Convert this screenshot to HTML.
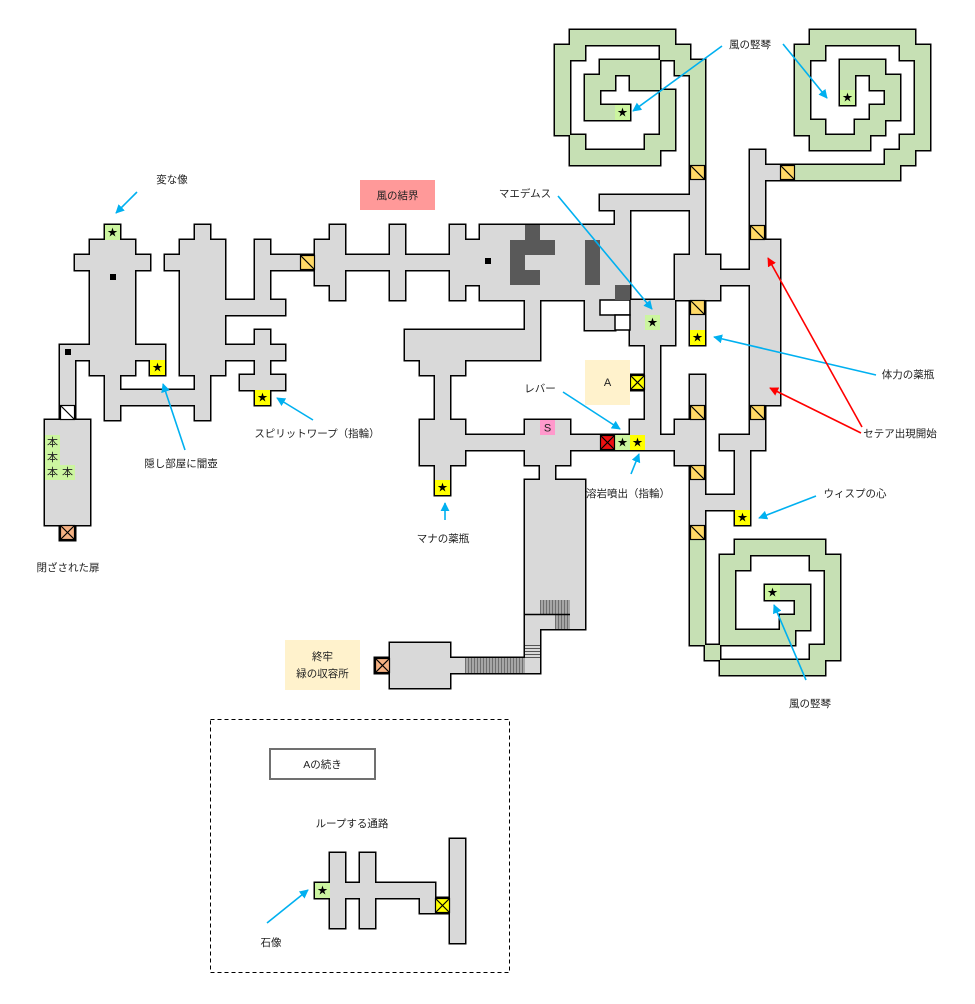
<!DOCTYPE html>
<html><head><meta charset="utf-8"><style>
html,body{margin:0;padding:0;background:#fff;}
svg{display:block;}
text{font-family:"Liberation Sans","Noto Sans CJK JP",sans-serif;fill:#222;}
</style></head><body>
<svg width="975" height="1004" viewBox="0 0 975 1004" xmlns="http://www.w3.org/2000/svg">
<defs>
<g id="G">
<rect x="90" y="240" width="45" height="135"/>
<rect x="75" y="255" width="75" height="15"/>
<rect x="105" y="225" width="15" height="15"/>
<rect x="60" y="345" width="105" height="15"/>
<rect x="150" y="360" width="15" height="15"/>
<rect x="60" y="345" width="15" height="75"/>
<rect x="45" y="420" width="45" height="105"/>
<rect x="60" y="525" width="15" height="15"/>
<rect x="105" y="375" width="15" height="45"/>
<rect x="105" y="390" width="105" height="15"/>
<rect x="195" y="225" width="15" height="15"/>
<rect x="180" y="240" width="45" height="135"/>
<rect x="165" y="255" width="15" height="15"/>
<rect x="195" y="375" width="15" height="45"/>
<rect x="225" y="300" width="60" height="15"/>
<rect x="255" y="240" width="15" height="75"/>
<rect x="270" y="255" width="45" height="15"/>
<rect x="255" y="330" width="15" height="75"/>
<rect x="225" y="345" width="60" height="15"/>
<rect x="240" y="375" width="45" height="15"/>
<rect x="315" y="240" width="15" height="45"/>
<rect x="330" y="225" width="15" height="75"/>
<rect x="345" y="255" width="45" height="15"/>
<rect x="390" y="225" width="15" height="75"/>
<rect x="405" y="255" width="45" height="15"/>
<rect x="450" y="225" width="15" height="75"/>
<rect x="465" y="240" width="15" height="45"/>
<rect x="480" y="225" width="135" height="75"/>
<rect x="615" y="210" width="15" height="90"/>
<rect x="600" y="195" width="105" height="15"/>
<rect x="585" y="300" width="15" height="30"/>
<rect x="600" y="315" width="15" height="15"/>
<rect x="525" y="300" width="15" height="30"/>
<rect x="405" y="330" width="135" height="30"/>
<rect x="420" y="360" width="45" height="15"/>
<rect x="435" y="375" width="15" height="45"/>
<rect x="420" y="420" width="45" height="45"/>
<rect x="435" y="465" width="15" height="30"/>
<rect x="465" y="435" width="210" height="15"/>
<rect x="525" y="420" width="45" height="45"/>
<rect x="540" y="465" width="15" height="15"/>
<rect x="525" y="480" width="60" height="149"/>
<rect x="525" y="625" width="15" height="48"/>
<rect x="450" y="658" width="90" height="15"/>
<rect x="390" y="643" width="60" height="45"/>
<rect x="375" y="658" width="15" height="15"/>
<rect x="630" y="300" width="45" height="45"/>
<rect x="645" y="345" width="15" height="90"/>
<rect x="630" y="420" width="15" height="15"/>
<rect x="630" y="375" width="15" height="15"/>
<rect x="675" y="420" width="30" height="45"/>
<rect x="690" y="165" width="15" height="90"/>
<rect x="675" y="255" width="45" height="45"/>
<rect x="720" y="270" width="30" height="15"/>
<rect x="750" y="240" width="30" height="165"/>
<rect x="750" y="150" width="15" height="90"/>
<rect x="765" y="165" width="30" height="15"/>
<rect x="690" y="300" width="15" height="45"/>
<rect x="690" y="375" width="15" height="45"/>
<rect x="690" y="465" width="15" height="75"/>
<rect x="690" y="495" width="60" height="15"/>
<rect x="735" y="450" width="15" height="75"/>
<rect x="750" y="405" width="15" height="30"/>
<rect x="720" y="435" width="45" height="15"/>
<rect x="330" y="853" width="15" height="75"/>
<rect x="360" y="853" width="15" height="75"/>
<rect x="315" y="883" width="120" height="15"/>
<rect x="420" y="898" width="30" height="15"/>
<rect x="450" y="839" width="15" height="104"/>
</g>
<g id="GR">
<rect x="570" y="30" width="105" height="15"/>
<rect x="555" y="45" width="30" height="15"/>
<rect x="660" y="45" width="30" height="15"/>
<rect x="555" y="45" width="15" height="90"/>
<rect x="600" y="60" width="60" height="15"/>
<rect x="675" y="60" width="30" height="15"/>
<rect x="690" y="60" width="15" height="105"/>
<rect x="585" y="75" width="30" height="15"/>
<rect x="630" y="75" width="30" height="15"/>
<rect x="585" y="75" width="15" height="45"/>
<rect x="585" y="105" width="45" height="15"/>
<rect x="660" y="90" width="15" height="60"/>
<rect x="570" y="135" width="15" height="15"/>
<rect x="645" y="135" width="30" height="15"/>
<rect x="570" y="150" width="90" height="15"/>
<rect x="810" y="30" width="105" height="15"/>
<rect x="795" y="45" width="30" height="15"/>
<rect x="900" y="45" width="30" height="15"/>
<rect x="795" y="45" width="15" height="90"/>
<rect x="915" y="45" width="15" height="105"/>
<rect x="840" y="60" width="45" height="15"/>
<rect x="840" y="60" width="15" height="45"/>
<rect x="870" y="75" width="30" height="15"/>
<rect x="885" y="75" width="15" height="45"/>
<rect x="870" y="105" width="30" height="15"/>
<rect x="795" y="120" width="30" height="15"/>
<rect x="855" y="120" width="30" height="15"/>
<rect x="810" y="135" width="60" height="15"/>
<rect x="900" y="135" width="30" height="15"/>
<rect x="885" y="150" width="30" height="15"/>
<rect x="795" y="165" width="105" height="15"/>
<rect x="690" y="540" width="15" height="105"/>
<rect x="705" y="645" width="15" height="15"/>
<rect x="720" y="660" width="105" height="15"/>
<rect x="810" y="645" width="30" height="15"/>
<rect x="825" y="555" width="15" height="105"/>
<rect x="810" y="555" width="30" height="15"/>
<rect x="735" y="540" width="90" height="15"/>
<rect x="720" y="555" width="30" height="15"/>
<rect x="720" y="555" width="15" height="90"/>
<rect x="735" y="630" width="60" height="15"/>
<rect x="780" y="615" width="30" height="15"/>
<rect x="795" y="585" width="15" height="45"/>
<rect x="765" y="585" width="45" height="15"/>
</g>
<g id="dg"><rect x="0.5" y="0.5" width="14" height="14" fill="#ffd966" stroke="#000" stroke-width="1.2"/><path d="M0.5 0.5L14.5 14.5" stroke="#000" stroke-width="1.2"/></g>
<g id="xo"><rect x="0.5" y="0.5" width="14" height="14" fill="#f4b183" stroke="#000" stroke-width="1.2"/><path d="M0.5 0.5L14.5 14.5M14.5 0.5L0.5 14.5" stroke="#000" stroke-width="1.2"/></g>
<g id="xr"><rect x="0.5" y="0.5" width="14" height="14" fill="#ee1111" stroke="#000" stroke-width="1.2"/><path d="M0.5 0.5L14.5 14.5M14.5 0.5L0.5 14.5" stroke="#000" stroke-width="1.2"/></g>
<g id="xy"><rect x="0.5" y="0.5" width="14" height="14" fill="#ffff00" stroke="#000" stroke-width="1.2"/><path d="M0.5 0.5L14.5 14.5M14.5 0.5L0.5 14.5" stroke="#000" stroke-width="1.2"/></g>
<pattern id="vs" width="3" height="3" patternUnits="userSpaceOnUse"><rect width="3" height="3" fill="#a6a6a6"/><rect width="1" height="3" fill="#6f6f6f"/></pattern>
<pattern id="hs" width="3" height="3" patternUnits="userSpaceOnUse"><rect width="3" height="3" fill="#d9d9d9"/><rect width="3" height="1" fill="#555"/></pattern>
<marker id="mb" viewBox="0 0 10 10" refX="9" refY="5" markerUnits="userSpaceOnUse" markerWidth="9" markerHeight="9" orient="auto"><path d="M0,0 L10,5 L0,10 z" fill="#00b0f0"/></marker>
<marker id="mr" viewBox="0 0 10 10" refX="9" refY="5" markerUnits="userSpaceOnUse" markerWidth="9" markerHeight="9" orient="auto"><path d="M0,0 L10,5 L0,10 z" fill="#ff0000"/></marker>
</defs>

<use href="#G" fill="none" stroke="#000" stroke-width="3"/>
<use href="#GR" fill="none" stroke="#000" stroke-width="3"/>
<use href="#G" fill="#d9d9d9"/>
<use href="#GR" fill="#c6e0b4"/>

<rect x="600" y="300" width="30" height="15" fill="#fff" stroke="#000" stroke-width="1.5"/>
<rect x="615" y="315" width="15" height="15" fill="#fff" stroke="#000" stroke-width="1.5"/>

<g fill="#595959">
<rect x="525" y="225" width="15" height="15"/>
<rect x="510" y="240" width="45" height="15"/>
<rect x="510" y="255" width="15" height="15"/>
<rect x="510" y="270" width="30" height="15"/>
<rect x="585" y="240" width="15" height="45"/>
<rect x="615" y="285" width="15" height="15"/>
</g>
<g fill="#000">
<rect x="110" y="274" width="6" height="6"/>
<rect x="65" y="349" width="6" height="6"/>
<rect x="485" y="258" width="6" height="6"/>
</g>

<rect x="540" y="600" width="30" height="14" fill="url(#vs)"/>
<rect x="555" y="614" width="15" height="15" fill="url(#vs)"/>
<line x1="525" y1="614.5" x2="570" y2="614.5" stroke="#000" stroke-width="1.5"/>
<rect x="465" y="658" width="60" height="15" fill="url(#vs)"/>
<rect x="525" y="644" width="15" height="14" fill="url(#hs)"/>

<g fill="#ccf5a0">
<rect x="105" y="225" width="15" height="15"/>
<rect x="645" y="315" width="15" height="15"/>
<rect x="615" y="435" width="15" height="15"/>
<rect x="315" y="883" width="15" height="15"/>
<rect x="615" y="105" width="15" height="15"/>
<rect x="840" y="90" width="15" height="15"/>
<rect x="765" y="585" width="15" height="15"/>
<rect x="45" y="435" width="15" height="45"/>
<rect x="60" y="465" width="15" height="15"/>
</g>
<g fill="#ffff00">
<rect x="150" y="360" width="15" height="15"/>
<rect x="255" y="390" width="15" height="15"/>
<rect x="435" y="480" width="15" height="15"/>
<rect x="630" y="435" width="15" height="15"/>
<rect x="690" y="330" width="15" height="15"/>
<rect x="735" y="510" width="15" height="15"/>
</g>
<g font-size="10" text-anchor="middle">
<text x="112.5" y="236" style="fill:#000">★</text>
<text x="652.5" y="326" style="fill:#000">★</text>
<text x="622.5" y="446" style="fill:#000">★</text>
<text x="322.5" y="894" style="fill:#000">★</text>
<text x="622.5" y="116" style="fill:#000">★</text>
<text x="847.5" y="101" style="fill:#000">★</text>
<text x="772.5" y="596" style="fill:#000">★</text>
<text x="157.5" y="371" style="fill:#000">★</text>
<text x="262.5" y="401" style="fill:#000">★</text>
<text x="442.5" y="491" style="fill:#000">★</text>
<text x="637.5" y="446" style="fill:#000">★</text>
<text x="697.5" y="341" style="fill:#000">★</text>
<text x="742.5" y="521" style="fill:#000">★</text>
</g>
<g font-size="11" text-anchor="middle">
<text x="52.5" y="446">本</text>
<text x="52.5" y="461">本</text>
<text x="52.5" y="476">本</text>
<text x="67.5" y="476">本</text>
</g>

<use href="#dg" x="300" y="255"/>
<use href="#dg" x="690" y="165"/>
<use href="#dg" x="750" y="225"/>
<use href="#dg" x="780" y="165"/>
<use href="#dg" x="690" y="300"/>
<use href="#dg" x="690" y="405"/>
<use href="#dg" x="690" y="465"/>
<use href="#dg" x="750" y="405"/>
<use href="#dg" x="690" y="525"/>
<rect x="60.5" y="405.5" width="14" height="14" fill="#fff" stroke="#000" stroke-width="1.2"/>
<path d="M60.5 405.5L74.5 419.5" stroke="#000" stroke-width="1.2"/>
<use href="#xo" x="60" y="525"/>
<use href="#xo" x="375" y="658"/>
<use href="#xr" x="600" y="435"/>
<use href="#xy" x="630" y="375"/>
<use href="#xy" x="435" y="898"/>

<rect x="540" y="420" width="15" height="15" fill="#ff99cc"/>
<text x="547.5" y="431.5" font-size="11" text-anchor="middle">S</text>

<rect x="360" y="180" width="75" height="30" fill="#ff9999"/>
<text x="397.5" y="199" font-size="10.5" text-anchor="middle">風の結界</text>
<rect x="585" y="360" width="45" height="45" fill="#fff2cc"/>
<text x="607.5" y="386" font-size="11" text-anchor="middle">A</text>
<rect x="285" y="640" width="75" height="50" fill="#fff2cc"/>
<text x="322.5" y="660" font-size="10.5" text-anchor="middle">終牢</text>
<text x="322.5" y="677" font-size="10.5" text-anchor="middle">緑の収容所</text>

<rect x="210.5" y="719.5" width="299" height="253" fill="none" stroke="#000" stroke-width="1" stroke-dasharray="4 3"/>
<rect x="270" y="749" width="105" height="30" fill="#fff" stroke="#707070" stroke-width="2"/>
<text x="322.5" y="768" font-size="10.5" text-anchor="middle">Aの続き</text>
<text x="352" y="827" font-size="10.5" text-anchor="middle">ループする通路</text>
<text x="271" y="946" font-size="10.5" text-anchor="middle">石像</text>

<g font-size="10.5" text-anchor="middle">
<text x="172" y="183">変な像</text>
<text x="525" y="197">マエデムス</text>
<text x="750" y="48">風の竪琴</text>
<text x="908" y="378">体力の薬瓶</text>
<text x="900" y="437">セテア出現開始</text>
<text x="855" y="497">ウィスプの心</text>
<text x="810" y="707">風の竪琴</text>
<text x="540" y="392">レバー</text>
<text x="628" y="497">溶岩噴出（指輪）</text>
<text x="443" y="542">マナの薬瓶</text>
<text x="317" y="437">スピリットワープ（指輪）</text>
<text x="181" y="467">隠し部屋に闇壺</text>
<text x="68" y="571">閉ざされた扉</text>
</g>

<g stroke="#00b0f0" stroke-width="1.6" fill="none" marker-end="url(#mb)">
<line x1="137" y1="192" x2="116" y2="213"/>
<line x1="185" y1="450" x2="163" y2="384"/>
<line x1="313" y1="420" x2="277" y2="398"/>
<line x1="445" y1="520" x2="445" y2="503"/>
<line x1="558" y1="196" x2="652" y2="309"/>
<line x1="722" y1="46" x2="633" y2="111"/>
<line x1="783" y1="44" x2="827" y2="98"/>
<line x1="876" y1="375" x2="714" y2="337"/>
<line x1="816" y1="496" x2="759" y2="518"/>
<line x1="806" y1="680" x2="774" y2="605"/>
<line x1="563" y1="392" x2="620" y2="429"/>
<line x1="631" y1="474" x2="639" y2="454"/>
<line x1="267" y1="923" x2="308" y2="890"/>
</g>
<g stroke="#ff0000" stroke-width="1.6" fill="none" marker-end="url(#mr)">
<line x1="862" y1="427" x2="768" y2="258"/>
<line x1="861" y1="433" x2="770" y2="388"/>
</g>
</svg>
</body></html>
